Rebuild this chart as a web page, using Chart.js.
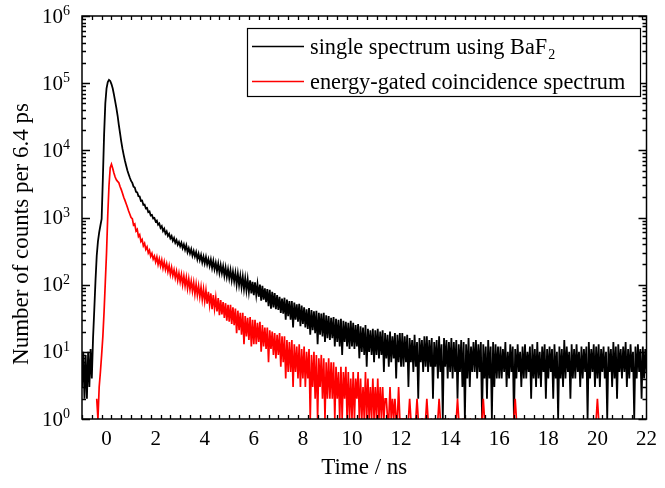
<!DOCTYPE html>
<html>
<head>
<meta charset="utf-8">
<script src="https://cdn.jsdelivr.net/npm/chart.js@4.4.0/dist/chart.umd.min.js"></script>
<style>
  html, body { margin: 0; padding: 0; background: #fff; }
  #wrap { width: 665px; height: 488px; }
</style>
</head>
<body>
<div id="wrap"><canvas id="chart" width="665" height="488"></canvas></div>
<script>
/* ---------- data ---------- */
const times = [
  -1.00,-0.95,-0.90,-0.85,-0.80,-0.75,-0.70,-0.65,-0.60,-0.55,
  -0.50,-0.45,-0.40,-0.35,-0.30,-0.25,-0.20,-0.15,-0.10,-0.05,
  0.00,0.05,0.10,0.15,0.20,0.25,0.30,0.35,0.40,0.45,
  0.50,0.55,0.60,0.65,0.70,0.75,0.80,0.85,0.90,0.95,
  1.00,
  1.05,1.1,1.15,1.2,1.25,1.3,1.35,1.4,1.45,1.5,1.55,1.6,1.65,1.7,1.75,1.8,1.85,1.9,1.95,2.0,
  2.05,2.1,2.15,2.2,2.25,2.3,2.35,2.4,2.45,2.5,2.55,2.6,2.65,2.7,2.75,2.8,2.85,2.9,2.95,3.0,
  3.05,3.1,3.15,3.2,3.25,3.3,3.35,3.4,3.45,3.5,3.55,3.6,3.65,3.7,3.75,3.8,3.85,3.9,3.95,4.0,
  4.05,4.1,4.15,4.2,4.25,4.3,4.35,4.4,4.45,4.5,4.55,4.6,4.65,4.7,4.75,4.8,4.85,4.9,4.95,5.0,
  5.05,5.1,5.15,5.2,5.25,5.3,5.35,5.4,5.45,5.5,5.55,5.6,5.65,5.7,5.75,5.8,5.85,5.9,5.95,6.0,
  6.05,6.1,6.15,6.2,6.25,6.3,6.35,6.4,6.45,6.5,6.55,6.6,6.65,6.7,6.75,6.8,6.85,6.9,6.95,7.0,
  7.05,7.1,7.15,7.2,7.25,7.3,7.35,7.4,7.45,7.5,7.55,7.6,7.65,7.7,7.75,7.8,7.85,7.9,7.95,8.0,
  8.05,8.1,8.15,8.2,8.25,8.3,8.35,8.4,8.45,8.5,8.55,8.6,8.65,8.7,8.75,8.8,8.85,8.9,8.95,9.0,
  9.05,9.1,9.15,9.2,9.25,9.3,9.35,9.4,9.45,9.5,9.55,9.6,9.65,9.7,9.75,9.8,9.85,9.9,9.95,10.0,
  10.05,10.1,10.15,10.2,10.25,10.3,10.35,10.4,10.45,10.5,10.55,10.6,10.65,10.7,10.75,10.8,10.85,10.9,10.95,11.0,
  11.05,11.1,11.15,11.2,11.25,11.3,11.35,11.4,11.45,11.5,11.55,11.6,11.65,11.7,11.75,11.8,11.85,11.9,11.95,12.0,
  12.05,12.1,12.15,12.2,12.25,12.3,12.35,12.4,12.45,12.5,12.55,12.6,12.65,12.7,12.75,12.8,12.85,12.9,12.95,13.0,
  13.05,13.1,13.15,13.2,13.25,13.3,13.35,13.4,13.45,13.5,13.55,13.6,13.65,13.7,13.75,13.8,13.85,13.9,13.95,14.0,
  14.05,14.1,14.15,14.2,14.25,14.3,14.35,14.4,14.45,14.5,14.55,14.6,14.65,14.7,14.75,14.8,14.85,14.9,14.95,15.0,
  15.05,15.1,15.15,15.2,15.25,15.3,15.35,15.4,15.45,15.5,15.55,15.6,15.65,15.7,15.75,15.8,15.85,15.9,15.95,16.0,
  16.05,16.1,16.15,16.2,16.25,16.3,16.35,16.4,16.45,16.5,16.55,16.6,16.65,16.7,16.75,16.8,16.85,16.9,16.95,17.0,
  17.05,17.1,17.15,17.2,17.25,17.3,17.35,17.4,17.45,17.5,17.55,17.6,17.65,17.7,17.75,17.8,17.85,17.9,17.95,18.0,
  18.05,18.1,18.15,18.2,18.25,18.3,18.35,18.4,18.45,18.5,18.55,18.6,18.65,18.7,18.75,18.8,18.85,18.9,18.95,19.0,
  19.05,19.1,19.15,19.2,19.25,19.3,19.35,19.4,19.45,19.5,19.55,19.6,19.65,19.7,19.75,19.8,19.85,19.9,19.95,20.0,
  20.05,20.1,20.15,20.2,20.25,20.3,20.35,20.4,20.45,20.5,20.55,20.6,20.65,20.7,20.75,20.8,20.85,20.9,20.95,21.0,
  21.05,21.1,21.15,21.2,21.25,21.3,21.35,21.4,21.45,21.5,21.55,21.6,21.65,21.7,21.75,21.8,21.85,21.9,21.95,22.0
];

// single spectrum using BaF2 (black)
const singleCounts = [
  3,10,2,9,2,10,3,11,4,16,
  42,115,270,440,600,760,950,3800,17000,50000,
  84000,104000,112000,108000,97000,84000,68000,54000,43000,33000,
  24000,18000,13500,10500,8500,7000,5900,5000,4400,3900,
  3500,
  3280,2880,2790,2410,2370,2080,2060,1770,1790,1540,1560,1370,1390,1200,1230,1070,1090,965,985,870,
  900,780,815,700,745,630,680,575,620,530,570,490,530,450,495,420,462,392,432,372,
  420,350,398,330,385,305,350,292,338,270,316,262,305,240,288,232,276,215,262,208,
  258,200,240,190,236,178,226,170,212,160,206,150,196,148,188,136,180,130,170,124,
  165,116,156,112,150,100,145,99,136,92,132,86,124,82,120,78,116,74,110,70,
  108,70,102,66,100,58,96,60,88,55,86,48,84,44,78,46,75,43,70,42,
  66,38,62,37,64,30,60,34,57,30,57,23,54,30,51,28,52,24,49,26,
  46,23,43,22,45,18,42,21,40,19,41,13,38,18,37,17,38,14,35,16,
  34,15,32,16,33,12,31,14,30,12,31,9,29,14,28,12,27,11,29,12,
  27,11,25,12,26,8,24,10,23,9,25,6,22,10,21,9,22,7,21,9,
  22,8,20,9,21,5,19,8,18,6,20,7,17,8,19,4,18,7,19,6,
  19,6,17,7,18,3,16,7,15,5,18,6,14,2,16,7,15,5,17,6,
  17,5,15,6,16,2,14,6,15,4,17,5,13,1,16,6,15,4,14,5,
  16,4,14,5,15,2,13,5,15,3,14,1,13,4,16,3,12,5,14,5,
  15,4,13,5,14,1,13,4,12,2,15,4,12,1,14,3,13,4,12,4,
  12,4,11,5,14,3,10,4,13,5,12,1,11,4,13,5,10,3,12,4,
  13,4,10,5,12,2,13,4,11,3,14,4,10,3,12,5,13,2,11,4,
  12,5,11,2,13,4,10,1,12,4,11,3,15,4,12,5,10,2,13,4,
  11,4,13,5,10,3,12,4,11,5,12,1,14,4,11,5,13,3,12,4,
  13,3,11,5,12,4,10,1,12,5,11,3,14,4,12,2,13,5,11,4,
  12,5,14,3,11,4,13,5,10,1,12,4,13,5,11,2,12,4,11,5
];

// energy-gated coincidence spectrum (red)
const gatedCounts = [
  0,0,0,0,0,0,0,0,0,0,
  0,0,2,1,3,5,9,17,40,110,
  300,1100,3000,5500,6200,5400,4600,4000,3650,3450,
  3300,2900,2600,2300,2000,1800,1600,1420,1250,1120,
  1000,
  960,770,800,630,665,520,555,440,470,378,412,335,365,296,325,264,292,240,266,218,
  258,200,242,190,232,176,218,168,204,156,192,142,180,136,166,126,158,116,148,110,
  142,100,134,96,128,88,122,85,113,80,108,72,102,70,96,66,92,60,86,57,
  82,52,78,50,74,43,70,44,64,40,63,35,59,36,55,32,53,29,50,28,
  50,26,46,25,44,19,41,21,38,18,38,13,34,17,32,15,33,12,30,13,
  30,13,27,14,28,10,25,12,23,11,23,7,21,11,20,9,19,8,18,9,
  19,6,17,7,17,4,15,5,14,5,15,3,13,5,12,4,13,3,11,4,
  12,3,10,4,11,1,9,3,10,2,9,1,8,3,9,2,8,1,7,2,
  8,2,7,2,7,1,6,2,5,1,6,1,5,2,6,1,5,1,4,1,
  5,1,4,2,5,1,4,1,3,1,5,1,4,1,3,1,4,1,3,1,
  4,1,3,1,3,1,2,2,1,1,3,1,2,1,2,1,1,3,1,1,
  1,1,1,1,0,1,2,1,1,0,1,1,2,1,0,1,1,1,0,1,
  2,1,0,1,1,0,1,1,0,1,2,1,0,0,1,1,0,1,1,0,
  1,0,1,0,1,2,1,0,0,1,1,0,1,0,0,1,1,0,1,0,
  0,1,1,0,0,1,2,1,0,0,1,0,1,0,0,1,0,1,0,0,
  1,0,0,1,0,1,0,0,1,0,0,1,2,1,0,0,1,0,0,1,
  0,0,1,0,0,1,0,1,0,0,0,1,0,0,1,0,0,0,1,0,
  0,1,0,0,0,1,0,0,1,0,0,0,1,0,0,1,0,0,0,0,
  1,0,0,0,1,0,0,1,0,0,0,1,0,0,0,0,1,0,1,2,
  1,0,0,1,0,0,0,1,0,0,1,0,0,0,0,1,0,0,0,1,
  0,0,1,0,0,0,1,0,0,0,0,1,0,0,1,0,0,0,0,0
];

const seriesLabels = ["single spectrum using BaF₂", "energy-gated coincidence spectrum"];
const xTickValues = [0, 2, 4, 6, 8, 10, 12, 14, 16, 18, 20, 22];
const yTickValues = [1, 10, 100, 1000, 10000, 100000, 1000000];
const xTitle = "Time / ns";
const yTitle = "Number of counts per 6.4 ps";

const FONT = '"Liberation Serif", "Times New Roman", serif';

/* ---------- frame, ticks, labels, legend ---------- */
const framePlugin = {
  id: "frame",
  afterDatasetsDraw(chart) {
    const { ctx, chartArea: a, scales: { x, y } } = chart;
    ctx.save();
    ctx.strokeStyle = "#000";
    ctx.fillStyle = "#000";

    // ticks (inside, mirrored on all sides)
    ctx.lineWidth = 1.3;
    ctx.beginPath();
    const xStep = xTickValues[1] - xTickValues[0];
    for (let v = x.min; v <= x.max + 1e-9; v += xStep / 5) {
      const px = Math.round(x.getPixelForValue(v)) + 0.5;
      const major = xTickValues.some(t => Math.abs(t - v) < 1e-6);
      const len = major ? 8 : 4;
      ctx.moveTo(px, a.bottom); ctx.lineTo(px, a.bottom - len);
      ctx.moveTo(px, a.top); ctx.lineTo(px, a.top + len);
    }
    yTickValues.forEach((d, i) => {
      const py = Math.round(y.getPixelForValue(d)) + 0.5;
      ctx.moveTo(a.left, py); ctx.lineTo(a.left + 8, py);
      ctx.moveTo(a.right, py); ctx.lineTo(a.right - 8, py);
      if (i < yTickValues.length - 1) {
        for (let m = 2; m <= 9; m++) {
          const pm = Math.round(y.getPixelForValue(d * m)) + 0.5;
          ctx.moveTo(a.left, pm); ctx.lineTo(a.left + 4, pm);
          ctx.moveTo(a.right, pm); ctx.lineTo(a.right - 4, pm);
        }
      }
    });
    ctx.stroke();

    ctx.lineWidth = 1.5;
    ctx.strokeRect(a.left, a.top, a.right - a.left, a.bottom - a.top);

    // y tick labels 10^n
    yTickValues.forEach(d => {
      const py = y.getPixelForValue(d);
      const exp = String(Math.round(Math.log10(d)));
      ctx.font = "14px " + FONT;
      const ew = ctx.measureText(exp).width;
      const right = a.left - 12;
      ctx.textAlign = "left";
      ctx.textBaseline = "alphabetic";
      ctx.fillText(exp, right - ew, py - 1);
      ctx.font = "21px " + FONT;
      ctx.textAlign = "right";
      ctx.textBaseline = "middle";
      ctx.fillText("10", right - ew, py + 1);
    });

    // axis titles
    ctx.font = "23px " + FONT;
    ctx.textAlign = "center";
    ctx.textBaseline = "middle";
    ctx.fillText(xTitle, (a.left + a.right) / 2, 468);
    ctx.save();
    ctx.translate(22, 234);
    ctx.rotate(-Math.PI / 2);
    ctx.fillText(yTitle, 0, 0);
    ctx.restore();

    // legend
    const box = { left: 247, top: 28, right: 640, bottom: 96 };
    ctx.fillStyle = "#fff";
    ctx.fillRect(box.left, box.top, box.right - box.left, box.bottom - box.top);
    ctx.lineWidth = 1.2;
    ctx.strokeStyle = "#000";
    ctx.strokeRect(box.left + 0.5, box.top + 0.5, box.right - box.left, box.bottom - box.top);
    const rows = [46, 81];
    chart.data.datasets.forEach((ds, i) => {
      const ry = rows[i];
      ctx.strokeStyle = ds.borderColor;
      ctx.lineWidth = 1.5;
      ctx.beginPath();
      ctx.moveTo(252, ry + 0.5); ctx.lineTo(304, ry + 0.5);
      ctx.stroke();
      ctx.fillStyle = "#000";
      ctx.textAlign = "left";
      ctx.textBaseline = "middle";
      let tx = 310;
      const parts = ds.label.split("₂");
      parts.forEach((p, k) => {
        ctx.font = "22.3px " + FONT;
        ctx.fillText(p, tx, ry + 2);
        tx += ctx.measureText(p).width;
        if (k < parts.length - 1) {
          ctx.font = "14px " + FONT;
          ctx.fillText("2", tx + 1, ry + 9);
          tx += ctx.measureText("2").width + 1;
        }
      });
    });
    ctx.restore();
  }
};

new Chart(document.getElementById("chart"), {
  type: "line",
  data: {
    datasets: [
      {
        label: seriesLabels[0],
        data: times.map((t, i) => ({ x: t, y: singleCounts[i] })),
        borderColor: "#000000",
        borderWidth: 1.8,
        pointRadius: 0,
        tension: 0,
        order: 2
      },
      {
        label: seriesLabels[1],
        data: times.map((t, i) => ({ x: t, y: gatedCounts[i] })),
        borderColor: "#ff0000",
        borderWidth: 1.7,
        pointRadius: 0,
        tension: 0,
        order: 1
      }
    ]
  },
  options: {
    responsive: false,
    animation: false,
    layout: { padding: { top: 16, right: 9, left: 0, bottom: 0 } },
    plugins: { legend: { display: false }, tooltip: { enabled: false } },
    scales: {
      x: {
        type: "linear",
        min: -1,
        max: 22,
        grid: { display: false, drawTicks: false },
        border: { display: false },
        afterBuildTicks: s => { s.ticks = xTickValues.map(v => ({ value: v })); },
        afterFit: s => { s.height = 69; },
        ticks: {
          color: "#000",
          font: { family: FONT, size: 21 },
          padding: 8,
          maxRotation: 0,
          autoSkip: false
        }
      },
      y: {
        type: "logarithmic",
        min: 1,
        max: 1000000,
        grid: { display: false, drawTicks: false },
        border: { display: false },
        ticks: { display: false },
        afterFit: s => { s.width = 82; }
      }
    }
  },
  plugins: [framePlugin]
});
</script>
</body>
</html>
